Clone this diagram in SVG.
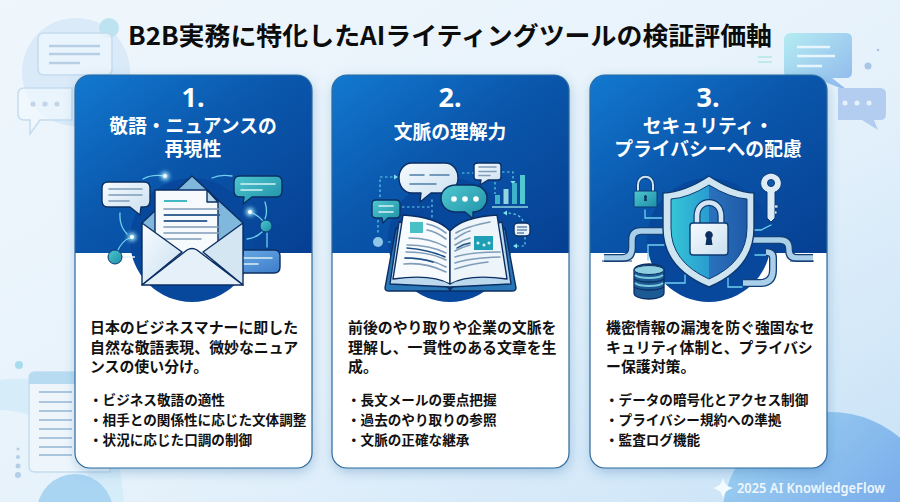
<svg xmlns="http://www.w3.org/2000/svg" width="900" height="502" viewBox="0 0 900 502">
<style>
text{font-family:"Noto Sans CJK JP","Noto Sans",sans-serif;font-weight:700}
.num{font-family:"Noto Sans","Noto Sans CJK JP",sans-serif;font-size:27px}
.head{font-size:18.8px;fill:#fff;text-anchor:middle}
.body{font-size:14.9px;fill:#111}
.li{font-size:13.6px;fill:#111}
.ol{stroke:#0b2f63;stroke-width:1.4;stroke-linejoin:round}
.l{stroke:#7f9cb8;stroke-width:1.6;fill:none;stroke-linecap:round}
.lw{stroke:#d8f2f4;stroke-width:1.6;fill:none;stroke-linecap:round}
.lk{stroke:#1c4f86;stroke-width:1.5;fill:none;stroke-linecap:round}
.arc{stroke:#6fd0ee;stroke-width:1.3;fill:none;stroke-linecap:round}
.dash{stroke:#63cfe6;stroke-width:1.2;fill:none;stroke-dasharray:2.5 2.5}
.pipeo{stroke:#123f76;stroke-width:8;fill:none;stroke-linejoin:round}
.pipei{stroke:#a9d0e8;stroke-width:5.4;fill:none;stroke-linejoin:round}
.deco{fill:#f1f8fd;fill-opacity:.7;stroke:#c3dcf0;stroke-width:1.5}
</style>
<defs>
<linearGradient id="bg" x1="0" y1="0" x2="1" y2="1"><stop offset="0" stop-color="#eff6fc"/><stop offset=".55" stop-color="#e6f2fb"/><stop offset="1" stop-color="#c8e2f7"/></linearGradient>
<linearGradient id="blue" x1="0" y1="0" x2="1" y2="1"><stop offset="0" stop-color="#1279cf"/><stop offset=".45" stop-color="#0a57ac"/><stop offset="1" stop-color="#063f92"/></linearGradient>
<linearGradient id="teal" x1="0" y1="0" x2="1" y2="1"><stop offset="0" stop-color="#4fc8cf"/><stop offset="1" stop-color="#1d8ea6"/></linearGradient>
<linearGradient id="sky" x1="0" y1="0" x2="1" y2="1"><stop offset="0" stop-color="#6fb0ea"/><stop offset="1" stop-color="#3d7cc8"/></linearGradient>
<linearGradient id="pale" x1="0" y1="0" x2="1" y2="1"><stop offset="0" stop-color="#f7fbfe"/><stop offset="1" stop-color="#c9dff0"/></linearGradient>
<linearGradient id="corner" x1="0" y1="0" x2="1" y2="1"><stop offset="0" stop-color="#a4d6f2"/><stop offset="1" stop-color="#5f93e6"/></linearGradient>
<linearGradient id="decoR" x1="0" y1="0" x2="1" y2="1"><stop offset="0" stop-color="#b4ecf2"/><stop offset="1" stop-color="#8fb6ec"/></linearGradient>
<linearGradient id="shield" x1="0" y1="0" x2="1" y2="0"><stop offset="0" stop-color="#35c5d6"/><stop offset=".5" stop-color="#2a9cd0"/><stop offset=".5" stop-color="#2a72bd"/><stop offset="1" stop-color="#1f5aa8"/></linearGradient>
<filter id="sh" x="-10%" y="-10%" width="120%" height="120%"><feDropShadow dx="1" dy="4" stdDeviation="6" flood-color="#2a6aa8" flood-opacity=".32"/></filter>
<filter id="glow" x="-150%" y="-150%" width="400%" height="400%"><feGaussianBlur stdDeviation="2.2"/></filter>
<clipPath id="c1"><rect x="75" y="75" width="237" height="393" rx="15"/></clipPath>
<clipPath id="c2"><rect x="332" y="75" width="237" height="393" rx="15"/></clipPath>
<clipPath id="c3"><rect x="590" y="75" width="237" height="393" rx="15"/></clipPath>
</defs>

<g id="background">
<rect width="900" height="502" fill="url(#bg)"/>
<circle cx="76" cy="72" r="54" fill="#d6e8f7" fill-opacity=".85"/>
<path d="M0 380C60 372 118 400 124 502H92C90 440 50 412 0 410Z" fill="#cfe9f8" opacity=".7"/>
<circle cx="75" cy="512" r="38" fill="#a9d5f3"/>
<circle cx="830" cy="520" r="108" fill="url(#corner)"/>
<circle cx="109" cy="28" r="10" fill="#bde3f1"/>
<path class="deco" d="M44 33H106Q112 33 112 39V69Q112 75 106 75H44Q38 75 38 69V39Q38 33 44 33Z"/>
<path d="M49 46H100M49 54H100M49 63H80" stroke="#b6cfe4" stroke-width="2.4" fill="none"/>
<path class="deco" d="M24 88H72V120H40L30 134V120H24Q18 120 18 114V94Q18 88 24 88Z"/>
<g fill="#c2d6e8"><circle cx="33" cy="104" r="2.6"/><circle cx="45" cy="104" r="2.6"/><circle cx="57" cy="104" r="2.6"/></g>
<path d="M792 33H846Q852 33 852 39V72Q852 78 846 78H832L850 92L815 78H792Q784 78 784 72V39Q784 33 792 33Z" fill="url(#decoR)"/>
<path d="M797 47H830M797 56H835M797 66H822" stroke="#e8f5fc" stroke-width="2.6"/>
<path d="M838 88H880Q886 88 886 94V114Q886 120 880 120H874L878 130L862 120H838Z" fill="#b3cdf0"/>
<g fill="#e6f1fb"><circle cx="845" cy="103" r="2.5"/><circle cx="857" cy="103" r="2.5"/><circle cx="869" cy="103" r="2.5"/></g>
<circle cx="868" cy="66" r="3.5" fill="#a9c7e4"/><circle cx="878" cy="50" r="1.3" fill="#a9c7e4"/>
<path d="M758 57H772M758 62H772" stroke="#b3e6e6" stroke-width="1.5"/>
<circle cx="19" cy="365" r="4" fill="#a8dcec"/>
<path d="M35 372H110V472H35Q29 472 29 466V378Q29 372 35 372Z" fill="#eef6fc" stroke="#c3dcf0" stroke-width="1.4"/>
<path d="M35 372H110V384H29V378Q29 372 35 372Z" fill="#b7dcf2"/>
<path d="M39 392H72M39 402H72M39 411H72M39 420H72M39 429H72M39 438H72M39 447H72M39 455H72" stroke="#aac6df" stroke-width="2.2"/>
<g fill="#b3cfe6"><circle cx="18" cy="449" r="1.5"/><circle cx="18" cy="457" r="2"/><circle cx="18" cy="466" r="2.5"/><circle cx="18" cy="475" r="3"/></g>
</g>

<text id="title" x="450" y="45" font-size="25" fill="#0c0c0c" text-anchor="middle" textLength="644" lengthAdjust="spacingAndGlyphs">B2B実務に特化したAIライティングツールの検証評価軸</text>

<g id="card-1">
<rect x="75" y="75" width="237" height="393" rx="15" fill="#fff" filter="url(#sh)"/>
<g clip-path="url(#c1)"><rect x="75" y="75" width="237" height="178" fill="url(#blue)"/><circle cx="192" cy="240" r="62" fill="#07479c"/></g>
<rect x="75" y="75" width="237" height="393" rx="15" fill="none" stroke="#2a6a9e" stroke-width="1.2"/>
<text class="head"><tspan class="num" x="193" y="107">1.</tspan><tspan x="193" y="133">敬語・ニュアンスの</tspan><tspan x="193" y="156">再現性</tspan></text>
<path class="arc" d="M143 179Q152 174 165 176M212 178Q220 174 232 176M120 213Q119 226 127 234M265 202Q268 212 265 219M267 233V247M247 239Q256 238 262 232M117 252Q122 240 132 237M250 212Q258 215 263 221"/>
<path d="M121 257H135" stroke="#e8f2f8" stroke-width="1.5"/>
<circle cx="165" cy="176" r="4" fill="#aef3ff" filter="url(#glow)"/><circle cx="165" cy="176" r="2" fill="#fff"/>
<circle cx="132" cy="237" r="4" fill="#aef3ff" filter="url(#glow)"/><circle cx="132" cy="237" r="2" fill="#fff"/>
<circle cx="250" cy="212" r="4" fill="#aef3ff" filter="url(#glow)"/><circle cx="250" cy="212" r="2" fill="#fff"/>
<circle cx="266" cy="226" r="6" fill="url(#teal)" stroke="#0b3a73"/><circle cx="115" cy="257" r="7" fill="url(#teal)" stroke="#0b3a73"/>
<path class="ol" d="M108 182H144Q150 182 150 188V201Q150 207 144 207H141L140 215L130 207H108Q102 207 102 201V188Q102 182 108 182Z" fill="url(#pale)"/>
<path class="l" d="M109 189H142M109 195H142M109 201H129"/>
<path class="ol" d="M240 176H276Q282 176 282 182V191Q282 197 276 197H252L243 204L244 197H240Q234 197 234 191V182Q234 176 240 176Z" fill="url(#teal)"/>
<path class="lw" d="M241 184H275M241 190H262"/>
<path class="ol" d="M236 250H274Q280 250 280 256V267Q280 273 274 273H236Q230 273 230 267V261L222 256L230 255Q231 250 236 250Z" fill="url(#sky)"/>
<path class="lw" d="M238 258H272M238 264H258"/>
<path class="ol" d="M142 223L192 176L243 223V255H142Z" fill="#7fb8dc"/>
<path class="ol" d="M155 190H207L218 202V262H155Z" fill="#f6fafd"/>
<path d="M207 190V202H218Z" fill="#b8d6ea" class="ol"/>
<path d="M164 201H187" stroke="#2fb3bd" stroke-width="1.8"/>
<path class="l" d="M164 209H220M164 215H220M164 221H207M164 227H220M164 233H220M164 239H201"/>
<path d="M164 215H220M164 221H207" stroke="#1c4f86" stroke-width="1.6"/>
<path class="ol" d="M142 223L182 252L142 285Z" fill="url(#pale)"/>
<path class="ol" d="M243 223L203 252L243 285Z" fill="#d5e6f3"/>
<path class="ol" d="M142 285L187 250Q192 247 197 250L243 285Z" fill="#e6f0f8"/>
<text class="body"><tspan x="90" y="333">日本のビジネスマナーに即した</tspan><tspan x="90" y="353">自然な敬語表現、微妙なニュア</tspan><tspan x="90" y="372">ンスの使い分け。</tspan></text>
<text class="li"><tspan x="89" y="405">・ビジネス敬語の適性</tspan><tspan x="89" y="425">・相手との関係性に応じた文体調整</tspan><tspan x="89" y="445">・状況に応じた口調の制御</tspan></text>
</g>

<g id="card-2">
<rect x="332" y="75" width="237" height="393" rx="15" fill="#fff" filter="url(#sh)"/>
<g clip-path="url(#c2)"><rect x="332" y="75" width="237" height="178" fill="url(#blue)"/><circle cx="450" cy="240" r="62" fill="#07479c"/></g>
<rect x="332" y="75" width="237" height="393" rx="15" fill="none" stroke="#2a6a9e" stroke-width="1.2"/>
<text class="head"><tspan class="num" x="450" y="107">2.</tspan><tspan x="450" y="139">文脈の理解力</tspan></text>
<path class="dash" d="M380 197V177H394M462 173H474M502 172H513V181M402 207H432V197M495 182V194M523 221Q520 213 505 213M525 237V246H515M378 220V235M388 242H400M432 210V218"/>
<path d="M394 174.500L398 177L394 179.500ZM510.500 181L513 185L515.500 181Z M507 210.500L503 213L507 215.500Z M517 243.500L513 246L517 248.500Z" fill="#7fe0ee"/>
<circle cx="378" cy="242" r="5" fill="#8fc6e8"/>
<path class="ol" d="M412 163H445C453 163 458 170 458 178C458 186 452 193 445 193H431L420 202L421 193H412C404 193 399 186 399 178C399 170 404 163 412 163Z" fill="url(#pale)"/>
<path class="lk" d="M410 175H424M430 175H449M410 184H436" style="stroke:#4f7fa8"/>
<path class="ol" d="M478 163H498Q501 163 501 166V177Q501 180 498 180H488L480 185L481 180H478Q474 180 474 177V166Q474 163 478 163Z" fill="url(#pale)"/>
<path class="l" d="M479 167H496M479 171.500H496M479 175.500H490"/>
<rect x="495" y="195" width="5" height="9" fill="#3db2c8"/><rect x="503.500" y="189" width="5" height="15" fill="#8fd6e0"/><rect x="512" y="183" width="5" height="21" fill="#3db2c8"/><rect x="520" y="175" width="5" height="29" fill="#4fc8cf"/>
<path d="M492 207H528" stroke="#8fd6e0" stroke-width="1.6"/>
<path class="ol" d="M456 185H472C481 185 487 191 487 198C487 206 481 212 473 212V220L477 222L465 212H456C447 212 441 206 441 198C441 191 447 185 456 185Z" fill="url(#teal)"/>
<g fill="#fff"><circle cx="454" cy="199" r="2.800"/><circle cx="465" cy="199" r="2.800"/><circle cx="476" cy="199" r="2.800"/></g>
<path class="ol" d="M376 200H396Q400 200 400 204V214Q400 218 396 218H388L383 223L382 218H376Q372 218 372 214V204Q372 200 376 200Z" fill="url(#teal)"/>
<path class="lw" d="M379 206H393M379 212H393"/>
<rect x="514" y="223" width="16" height="13" rx="4" fill="#e8f2f8" class="ol"/>
<path d="M517 227H527M517 230H527M517 233H524" stroke="#1c4f86" stroke-width="1"/>
<path class="ol" d="M385 288L396 228L450 290L505 228L516 288Q516 291 512 291H389Q385 291 385 288Z" fill="#2a77b8"/>
<path class="ol" d="M390 284L399 222L450 236L502 222L511 284L450 287Z" fill="#bcd8ec"/>
<path class="ol" d="M403 215C420 216 440 220 450 231V284C436 276 414 276 393 279Z" fill="#f7fbfe"/>
<path class="ol" d="M497 215C480 216 460 220 450 231V284C464 276 486 276 507 279Z" fill="#eef5fa"/>
<rect x="410" y="222" width="13" height="11" fill="#49bfc6"/>
<rect x="474" y="236" width="19" height="14" fill="#1f9fb6"/>
<g fill="#d8f2f4"><circle cx="478" cy="243" r="1.500"/><circle cx="484" cy="245" r="1.500"/><circle cx="489" cy="243" r="1.500"/></g>
<path class="l" d="M427 224Q437 226 446 233M427 230Q437 232 446 239M409 238Q430 238 446 247M407 245Q430 245 446 253M406 252Q430 252 446 260M405 258Q430 258 446 267M404 264Q425 262 446 272"/>
<path class="lk" d="M407 248Q430 250 445 257M405 258Q420 258 433 262"/>
<path class="l" d="M456 233Q465 227 490 222M455 239Q465 232 470 231M455 245Q462 240 470 238M455 251Q462 247 470 245M455 257Q470 252 500 252M455 263Q470 258 500 257M455 269Q470 264 488 262"/>
<path class="lk" d="M457 248Q463 244 470 243"/>
<text class="body"><tspan x="348" y="333">前後のやり取りや企業の文脈を</tspan><tspan x="348" y="353">理解し、一貫性のある文章を生</tspan><tspan x="348" y="372">成。</tspan></text>
<text class="li"><tspan x="347" y="405">・長文メールの要点把握</tspan><tspan x="347" y="425">・過去のやり取りの参照</tspan><tspan x="347" y="445">・文脈の正確な継承</tspan></text>
</g>

<g id="card-3">
<rect x="590" y="75" width="237" height="393" rx="15" fill="#fff" filter="url(#sh)"/>
<g clip-path="url(#c3)"><rect x="590" y="75" width="237" height="178" fill="url(#blue)"/><circle cx="709" cy="240" r="62" fill="#07479c"/></g>
<rect x="590" y="75" width="237" height="393" rx="15" fill="none" stroke="#2a6a9e" stroke-width="1.2"/>
<text class="head"><tspan class="num" x="708" y="107">3.</tspan><tspan x="708" y="133">セキュリティ・</tspan><tspan x="708" y="156">プライバシーへの配慮</tspan></text>
<path class="arc" d="M645 210V218H662M648 260V245H664M685 275V283H665M728 278V287H742M755 255H768M771 225L761 230H752"/>
<path class="pipeo" d="M604 258H622Q632 258 632 248V240Q632 231 641 231H665"/>
<path class="pipei" d="M604 258H622Q632 258 632 248V240Q632 231 641 231H665"/>
<path class="pipeo" d="M752 240H780Q789 240 789 249V250Q789 258 797 258H813"/>
<path class="pipei" d="M752 240H780Q789 240 789 249V250Q789 258 797 258H813"/>
<path class="pipeo" d="M743 283H760Q773 283 773 270V258Q773 252 766 252"/>
<path class="pipei" d="M743 283H760Q773 283 773 270V258Q773 252 766 252"/>
<path d="M602 261H632M790 261H814" stroke="#123f76" stroke-width="1.200"/>
<path d="M709 176Q733 192 754 193V228Q754 268 709 287Q663 268 663 228V193Q685 192 709 176Z" fill="#cfe4f1" stroke="#0b3a73" stroke-width="1.4"/>
<path d="M709 185Q730 198 747 199V228Q747 262 709 279Q671 262 671 228V199Q688 198 709 185Z" fill="url(#shield)" stroke="#0b3a73" stroke-width="1"/>
<path d="M697 224V216C697 198 721 198 721 216V224" fill="none" stroke="#0b3a73" stroke-width="7"/>
<path d="M697 224V216C697 198 721 198 721 216V224" fill="none" stroke="#d5e6f2" stroke-width="4.600"/>
<rect x="690" y="223" width="38" height="32" rx="3" fill="url(#pale)" stroke="#0b3a73" stroke-width="1.400"/>
<path d="M709 231a4 4 0 0 1 2.500 7l1 7h-7l1-7a4 4 0 0 1 2.500-7Z" fill="#0b2f63"/>
<path d="M638 191V185C638 174 653 174 653 185V191" fill="none" stroke="#0b3a73" stroke-width="3.600"/>
<path d="M638 191V185C638 174 653 174 653 185V191" fill="none" stroke="#cfe4f1" stroke-width="2"/>
<rect x="634" y="191" width="23" height="16" rx="1.500" fill="url(#teal)" stroke="#0b3a73"/>
<path d="M645.500 195a1.800 1.800 0 0 1 1 3l.5 3h-3l.5-3a1.800 1.800 0 0 1 1-3Z" fill="#0b2f63"/>
<path d="M767 192C758 189 758 175 771 173C784 175 784 189 775 192V218L771 222L767 218Z" fill="#dcebf5" stroke="#0b3a73"/>
<circle cx="771" cy="183" r="3.500" fill="#0f5aa8" stroke="#0b3a73"/>
<path d="M775 205H778V208H775M775 211H777V214H775" fill="#dcebf5" stroke="#0b3a73" stroke-width=".8"/>
<path d="M634 270C634 262 664 262 664 270V293C664 301 634 301 634 293Z" fill="#1c5a96" stroke="#0b2f63" stroke-width="1.300"/>
<ellipse cx="649" cy="270" rx="15" ry="4.500" fill="#8fd0e0" stroke="#0b2f63"/>
<path d="M634 279C640 283 658 283 664 279M634 287C640 291 658 291 664 287" fill="none" stroke="#0b2f63" stroke-width="1.400"/>
<path d="M635 275C640 279 658 279 663 275M635 283C640 287 658 287 663 283" fill="none" stroke="#7cc8dc" stroke-width="2"/>
<text class="body"><tspan x="606" y="333">機密情報の漏洩を防ぐ強固なセ</tspan><tspan x="606" y="353">キュリティ体制と、プライバシ</tspan><tspan x="606" y="372">ー保護対策。</tspan></text>
<text class="li"><tspan x="605" y="405">・データの暗号化とアクセス制御</tspan><tspan x="605" y="425">・プライバシー規約への準拠</tspan><tspan x="605" y="445">・監査ログ機能</tspan></text>
</g>

<g id="credit">
<path d="M723 478Q724.500 486 733 488Q724.500 490 723 498Q721.500 490 713 488Q721.500 486 723 478Z" fill="#f2fbff"/>
<text x="737" y="493" font-size="14" fill="#eef6fd" textLength="148" lengthAdjust="spacingAndGlyphs" style="font-family:'Noto Sans',sans-serif;font-weight:600">2025 AI KnowledgeFlow</text>
</g>
</svg>
